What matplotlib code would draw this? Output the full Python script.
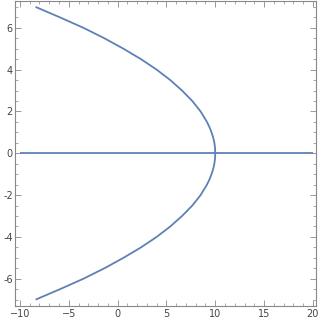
import matplotlib.pyplot as plt
from matplotlib.ticker import MultipleLocator

# parabola points (upper half, mirrored below)
y_half = [7.0, 6.5, 6.0, 5.5, 5.0, 4.5, 4.0, 3.5, 3.0, 2.5, 2.0, 1.5, 1.25,
          1.0, 0.75, 0.5, 0.25, 0.0]
x_half = [-8.4, -5.9, -3.5, -1.35, 0.6, 2.4, 4.0, 5.4, 6.6, 7.65, 8.5, 9.15, 9.41,
          9.62, 9.79, 9.91, 9.98, 10.0]

# horizontal line y = 0
line_x = [-10, 20]
line_y = [0, 0]

curve_y = y_half + [-v for v in reversed(y_half[:-1])]
curve_x = x_half + list(reversed(x_half[:-1]))

blue = "#5E81B5"
gray = "#888888"

fig = plt.figure(figsize=(3.2, 3.2), dpi=100)
ax = fig.add_axes([0.047, 0.044, 0.94, 0.954])
ax.plot(curve_x, curve_y, color=blue, lw=1.3, solid_capstyle="butt",
        solid_joinstyle="round")
ax.plot(line_x, line_y, color=blue, lw=1.3, solid_capstyle="butt")

ax.set_xlim(-10.5, 20.3)
ax.set_ylim(-7.3, 7.3)
ax.xaxis.set_major_locator(MultipleLocator(5))
ax.xaxis.set_minor_locator(MultipleLocator(1))
ax.yaxis.set_major_locator(MultipleLocator(2))
ax.yaxis.set_minor_locator(MultipleLocator(0.5))
ax.tick_params(which="both", direction="in", top=True, right=True,
               color=gray, labelcolor="#444444", labelsize=7, pad=2)
ax.tick_params(axis="y", pad=1.5)
ax.tick_params(which="major", length=4, width=0.6)
ax.tick_params(which="minor", length=2, width=0.5)
ax.tick_params(top=True, right=True, labeltop=False, labelright=False)
ax.xaxis.set_major_formatter(lambda v, p: f"{v:g}".replace("-", "\u2212"))
ax.yaxis.set_major_formatter(lambda v, p: f"{v:g}")
for s in ax.spines.values():
    s.set_color(gray)
    s.set_linewidth(0.8)

fig.savefig("out.png", dpi=100)
